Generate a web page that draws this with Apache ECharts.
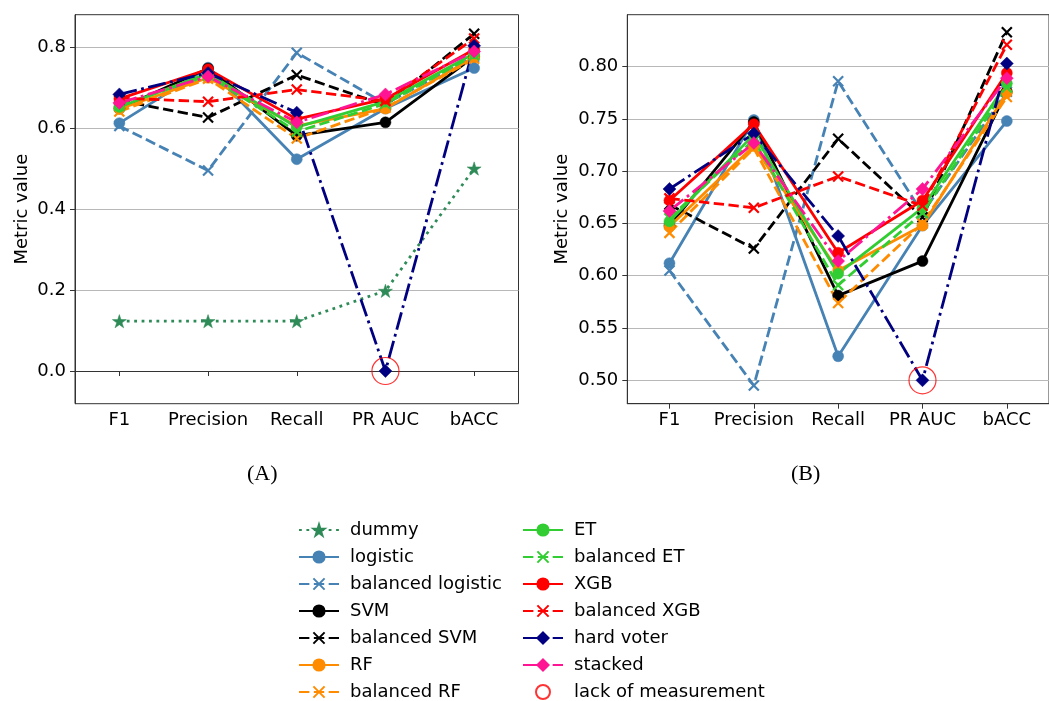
<!DOCTYPE html>
<html>
<head>
<meta charset="utf-8">
<script src="https://cdn.jsdelivr.net/npm/echarts@6/dist/echarts.min.js"></script>
<style>html,body{margin:0;padding:0;background:#fff;}#c{width:1049px;height:701px;}</style>
</head>
<body>
<div id="c"></div>
<script>
const categories = ['F1', 'Precision', 'Recall', 'PR AUC', 'bACC'];
const ticksA = [0.0, 0.2, 0.4, 0.6, 0.8];
const ticksB = [0.50, 0.55, 0.60, 0.65, 0.70, 0.75, 0.80];

const dummy            = [0.123, 0.123, 0.123, 0.198, 0.500];
const logistic         = [0.612, 0.749, 0.523, 0.648, 0.748];
const balancedLogistic = [0.605, 0.495, 0.786, 0.660, 0.776];
const svm              = [0.648, 0.747, 0.581, 0.614, 0.776];
const balancedSvm      = [0.668, 0.626, 0.731, 0.656, 0.833];
const rf               = [0.647, 0.724, 0.605, 0.648, 0.775];
const balancedRf       = [0.641, 0.722, 0.574, 0.650, 0.771];
const et               = [0.652, 0.735, 0.602, 0.665, 0.784];
const balancedEt       = [0.655, 0.730, 0.591, 0.660, 0.780];
const xgb              = [0.672, 0.745, 0.622, 0.672, 0.794];
const balancedXgb      = [0.674, 0.665, 0.695, 0.667, 0.821];
const hardVoterA       = [0.683, 0.736, 0.638, 0.000, 0.803];
const hardVoterB       = [0.683, 0.736, 0.638, 0.500, 0.803];
const stacked          = [0.662, 0.727, 0.614, 0.683, 0.789];
const lackA = [['PR AUC', 0.0]];
const lackB = [['PR AUC', 0.5]];

const LW = 2.8;
const DASH = [3.7 * LW, 1.6 * LW];
const DOT = [1 * LW, 1.65 * LW];
const DASHDOT = [6.4 * LW, 1.6 * LW, 1 * LW, 1.6 * LW];
const STAR = 'path://M50,0 L61.2,34.5 L97.6,34.5 L68.2,55.9 L79.4,90.5 L50,69.1 L20.6,90.5 L31.8,55.9 L2.4,34.5 L38.8,34.5 Z';
const XMARK = 'path://M0,0L10,10M10,0L0,10';

const FONT = 'DejaVu Sans';

function mk(name, data, color, type, symbol, size, grid) {
  const isX = symbol === XMARK;
  return {
    name: name, type: 'line', data: data,
    xAxisIndex: grid, yAxisIndex: grid,
    symbol: symbol, symbolSize: size, symbolKeepAspect: true,
    showAllSymbol: true,
    lineStyle: { color: color, width: LW, type: type, cap: 'butt' },
    itemStyle: { color: isX ? 'rgba(0,0,0,0)' : color, borderColor: color, borderWidth: isX ? 2.2 : 0.5 },
    emphasis: { disabled: true },
    animation: false
  };
}

function seriesFor(grid) {
  const s = [];
  if (grid === 0) s.push(mk('dummy', dummy, '#2e8b57', DOT, STAR, 14, grid));
  s.push(mk('logistic', logistic, '#4682b4', 'solid', 'circle', 11, grid));
  s.push(mk('balanced logistic', balancedLogistic, '#4682b4', DASH, XMARK, 10, grid));
  s.push(mk('SVM', svm, '#000000', 'solid', 'circle', 11, grid));
  s.push(mk('balanced SVM', balancedSvm, '#000000', DASH, XMARK, 10, grid));
  s.push(mk('RF', rf, '#ff8c00', 'solid', 'circle', 11, grid));
  s.push(mk('balanced RF', balancedRf, '#ff8c00', DASH, XMARK, 10, grid));
  s.push(mk('ET', et, '#32cd32', 'solid', 'circle', 11, grid));
  s.push(mk('balanced ET', balancedEt, '#32cd32', DASH, XMARK, 10, grid));
  s.push(mk('XGB', xgb, '#ff0000', 'solid', 'circle', 11, grid));
  s.push(mk('balanced XGB', balancedXgb, '#ff0000', DASH, XMARK, 10, grid));
  s.push(mk('hard voter', grid === 0 ? hardVoterA : hardVoterB, '#000080', DASHDOT, 'diamond', 13, grid));
  s.push(mk('stacked', stacked, '#ff1493', DASHDOT, 'diamond', 13, grid));
  s.push({
    name: 'lack of measurement', type: 'scatter', data: grid === 0 ? lackA : lackB,
    xAxisIndex: grid, yAxisIndex: grid, symbol: 'circle', symbolSize: 27,
    itemStyle: { color: 'rgba(255,255,255,0)', borderColor: '#ff0000', borderWidth: 1.2 },
    emphasis: { disabled: true }, animation: false, z: 3
  });
  return s;
}

function xAxis(grid) {
  return {
    type: 'category', data: categories, gridIndex: grid, boundaryGap: true,
    axisLine: { show: true, lineStyle: { color: '#333', width: 1 } },
    axisTick: { show: true, alignWithLabel: true, interval: 0, length: 5, lineStyle: { color: '#333' } },
    axisLabel: { color: '#000', fontSize: 18, fontFamily: FONT, margin: 8, interval: 0 },
    splitLine: { show: false }
  };
}

function yAxis(grid, min, max, ticks, dec, gap) {
  return {
    type: 'value', gridIndex: grid, min: min, max: max,
    name: 'Metric value', nameLocation: 'middle', nameRotate: 90, nameGap: gap,
    nameTextStyle: { color: '#000', fontSize: 18, fontFamily: FONT },
    axisLine: { show: true, lineStyle: { color: '#333', width: 1 } },
    axisTick: { show: true, length: 5, customValues: ticks, lineStyle: { color: '#333' } },
    axisLabel: { color: '#000', fontSize: 18, fontFamily: FONT, margin: 9, customValues: ticks,
      formatter: v => v.toFixed(dec) },
    splitLine: { show: true, lineStyle: { color: '#b8b8b8', width: 1 } }
  };
}

const names1 = ['dummy', 'logistic', 'balanced logistic', 'SVM', 'balanced SVM', 'RF', 'balanced RF'];
const names2 = ['ET', 'balanced ET', 'XGB', 'balanced XGB', 'hard voter', 'stacked', 'lack of measurement'];
function legend(names, left) {
  return {
    data: names, left: left, top: 521, height: 200, orient: 'vertical',
    itemWidth: 40, itemHeight: 14, itemGap: 9, padding: 0,
    selectedMode: false,
    textStyle: { color: '#000', fontSize: 18, fontFamily: FONT, padding: [0, 0, 0, 6] }
  };
}

const chart = echarts.init(document.getElementById('c'), null, { renderer: 'canvas' });
chart.setOption({
  backgroundColor: '#fff',
  animation: false,
  grid: [
    { left: 75, right: 530.5, top: 14.7, bottom: 297.3, show: true, borderColor: '#333', borderWidth: 1, containLabel: false },
    { left: 627.3, right: -5.7, top: 14.7, bottom: 297.3, show: true, borderColor: '#333', borderWidth: 1, containLabel: false }
  ],
  xAxis: [xAxis(0), xAxis(1)],
  yAxis: [yAxis(0, -0.0807, 0.8798, ticksA, 1, 44), yAxis(1, 0.4776, 0.8497, ticksB, 2, 56)],
  legend: [legend(names1, 298), legend(names2, 522)],
  graphic: [
    { type: 'text', left: 247, top: 463, style: { text: '(A)', font: '22px "Liberation Serif"', fill: '#000' } },
    { type: 'text', left: 791, top: 463, style: { text: '(B)', font: '22px "Liberation Serif"', fill: '#000' } }
  ],
  series: seriesFor(0).concat(seriesFor(1))
});
</script>
</body>
</html>
